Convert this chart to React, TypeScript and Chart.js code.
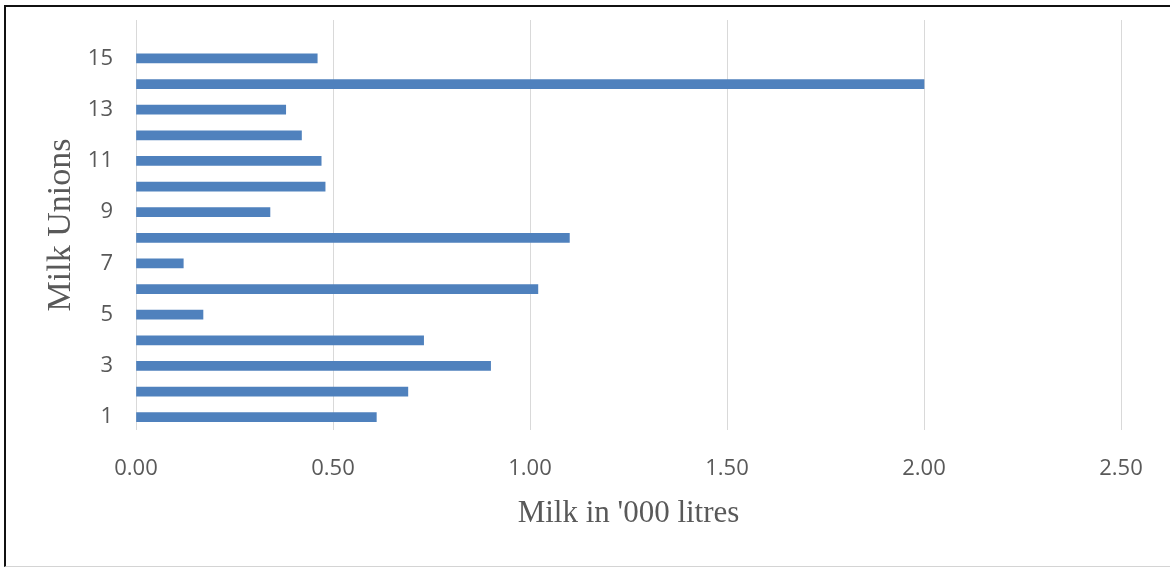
import React, { useEffect, useRef } from "react";
import { Chart, registerables } from "chart.js";

Chart.register(...registerables);

const unionLabels: string[] = ["1", "2", "3", "4", "5", "6", "7", "8", "9", "10", "11", "12", "13", "14", "15", "16"];
const milkValues: (number | null)[] = [0.61, 0.69, 0.9, 0.73, 0.17, 1.02, 0.12, 1.1, 0.34, 0.48, 0.47, 0.42, 0.38, 2.0, 0.46, null];
const xTickMin = 0;
const xTickMax = 2.5;
const xTickStep = 0.5;
const xTitle = "Milk in '000 litres";
const yTitle = "Milk Unions";

export default function App() {
  const ref = useRef<HTMLCanvasElement | null>(null);

  useEffect(() => {
    document.body.style.margin = "0";
    const canvas = ref.current;
    if (!canvas) return;
    const tickFont = { family: "'Open Sans', sans-serif", size: 22 };
    const chart = new Chart(canvas, {
      type: "bar",
      data: {
        labels: unionLabels,
        datasets: [
          {
            data: milkValues,
            backgroundColor: "#4F81BD",
            borderWidth: 0,
            barThickness: 9,
          },
        ],
      },
      options: {
        indexAxis: "y",
        responsive: false,
        animation: false,
        layout: { padding: { top: 20, right: 49, left: 0, bottom: 0 } },
        plugins: { legend: { display: false }, tooltip: { enabled: false } },
        scales: {
          x: {
            type: "linear",
            min: xTickMin,
            max: xTickMax,
            ticks: {
              stepSize: xTickStep,
              color: "#595959",
              font: tickFont,
              padding: 26,
              callback: (v: any) => Number(v).toFixed(2),
            },
            grid: { color: "#D9D9D9", lineWidth: 1, drawTicks: false },
            border: { display: false },
            title: {
              display: true,
              text: xTitle,
              color: "#595959",
              font: { family: "'Liberation Serif', serif", size: 31 },
              padding: { top: 0, bottom: 37 },
            },
            afterFit: (s: any) => {
              s.height = 139;
              s.paddingLeft = 0;
              s.paddingRight = 0;
            },
          },
          y: {
            type: "category",
            reverse: true,
            ticks: {
              autoSkip: false,
              color: "#595959",
              font: tickFont,
              padding: 23,
              callback: (_v: any, i: number) => (i % 2 === 0 ? unionLabels[i] : ""),
            },
            grid: { display: false, drawTicks: false },
            border: { display: false },
            title: {
              display: true,
              text: yTitle,
              color: "#595959",
              font: { family: "'Liberation Serif', serif", size: 34 },
              padding: { top: 41, bottom: 0 },
            },
            afterFit: (s: any) => {
              s.width = 136;
              s.paddingTop = 0;
              s.paddingBottom = 0;
            },
          },
        },
      },
    });
    return () => chart.destroy();
  }, []);

  return (
    <div style={{ position: "relative", width: 1170, height: 569, background: "#fff" }}>
      <canvas ref={ref} width={1170} height={569} style={{ position: "absolute", left: 0, top: 0 }} />
      <div
        style={{
          position: "absolute",
          left: 4,
          top: 5,
          width: 1166,
          height: 562,
          borderTop: "2px solid #111",
          borderLeft: "2px solid #111",
          borderBottom: "1px solid #d4d4d4",
          boxSizing: "border-box",
          pointerEvents: "none",
        }}
      />
    </div>
  );
}
